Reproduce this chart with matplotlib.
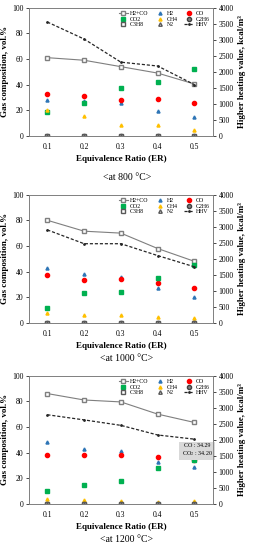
import numpy as np
import matplotlib
matplotlib.use('Agg')
import matplotlib.pyplot as plt

plt.rcParams['font.family'] = ['Liberation Serif', 'DejaVu Serif']
plt.rcParams['mathtext.fontset'] = 'stix'

# equivalence ratio
er = [0.1, 0.2, 0.3, 0.4, 0.5]
temps = ['800', '1000', '1200']

# gas composition (vol.%) at 800, 1000, 1200 C
h2co = [[61, 59, 54, 49, 40.5], [80, 71.5, 70, 58, 48], [86, 81, 79.5, 70, 63.5]]
h2 = [[28, 27, 25.5, 19.5, 14.5], [43, 38.5, 36, 27, 20.5], [48, 43, 41, 33, 29]]
co = [[33, 31, 28, 29, 25.5], [37, 33.5, 34.5, 31.5, 27], [38, 38, 38.5, 37, 34.3]]
co2 = [[18.5, 25.5, 37, 42, 52.5], [12, 23, 24, 35, 45], [10, 15, 18, 28, 34.2]]
ch4 = [[20, 15.5, 8.5, 8.5, 5], [8, 6, 6, 5, 4], [4, 3.5, 2.5, 1.5, 2.5]]
c2h6 = [[0, 0, 0, 0, 0], [0, 0, 0, 0, 0], [0, 0, 0, 0, 0]]
c3h8 = [[0, 0, 0, 0, 0], [0, 0, 0, 0, 0], [0, 0, 0, 0, 0]]
n2 = [[0, 0, 0, 0, 0], [0, 0, 0, 0, 0], [0, 0, 0, 0, 0]]
# higher heating value (kcal/m3)
hhv = [[3550, 3020, 2300, 2180, 1600], [2900, 2470, 2470, 2100, 1750], [2780, 2620, 2450, 2150, 2020]]

fig = plt.figure(figsize=(2.54, 5.5), dpi=100)

bottoms = [0.7527, 0.4127, 0.0836]
captions_y = [0.670, 0.340, 0.010]

for i in range(3):
    ax = fig.add_axes([0.114, bottoms[i], 0.724, 0.2335])
    ax2 = ax.twinx()

    ln1, = ax.plot(er, h2co[i], '-s', color='#7f7f7f', mfc='white', mec='#7f7f7f', ms=3.5, lw=0.8, label='H2+CO')
    p1, = ax.plot(er, h2[i], '^', color='#2e75b6', ms=2.2, ls='none', label='H2')
    p2, = ax.plot(er, co[i], 'o', color='#ff0000', ms=3, ls='none', label='CO')
    p3, = ax.plot(er, co2[i], 's', color='#00b050', ms=3, ls='none', label='CO2')
    p4, = ax.plot(er, ch4[i], '^', color='#ffc000', ms=2.2, ls='none', label='CH4')
    p5, = ax.plot(er, c2h6[i], 'o', color='#808080', mec='#404040', ms=3, ls='none', label='C2H6')
    p6, = ax.plot(er, c3h8[i], 's', color='white', mec='#595959', ms=3.5, ls='none', label='C3H8')
    p7, = ax.plot(er, n2[i], '^', color='white', mec='#595959', ms=2.5, ls='none', label='N2')
    ln2, = ax2.plot(er, hhv[i], '--', color='#262626', marker='.', ms=2, lw=0.9,
                    dashes=(2.5, 1.5), label='HHV')

    ax.set_xlim(0.05, 0.55)
    ax.set_ylim(0, 100)
    ax2.set_ylim(0, 4000)
    ax.set_xticks(er)
    ax.set_yticks([0, 20, 40, 60, 80, 100])
    ax2.set_yticks(np.arange(0, 4001, 500))
    ax.tick_params(labelsize=5.5, length=2, width=0.5, direction='out', pad=2)
    ax2.tick_params(labelsize=5.5, length=2, width=0.5, direction='out', pad=2)
    ax.tick_params(axis='x', length=0, pad=5)
    for a in (ax, ax2):
        for s in a.spines.values():
            s.set_linewidth(0.6)
            s.set_color('#7f7f7f')

    ax.set_xlabel('Equivalence Ratio (ER)', fontsize=6.5, fontweight='bold', labelpad=3)
    ax.set_ylabel('Gas composition, vol.%', fontsize=6.5, fontweight='bold', labelpad=2)
    ax2.set_ylabel('Higher heating value, kcal/m³', fontsize=6.5, fontweight='bold', labelpad=3)

    handles = [ln1, p1, p2, p3, p4, p5, p6, p7, ln2]
    # order row-wise for 3 columns
    order = [0, 3, 6, 1, 4, 7, 2, 5, 8]
    ax.legend([handles[k] for k in order], [handles[k].get_label() for k in order],
              ncol=3, loc='upper right', fontsize=4.2, frameon=False,
              handlelength=1.6, handletextpad=0.3, columnspacing=1.2,
              labelspacing=0.05, borderaxespad=0.2)

    fig.text(0.5, captions_y[i], '<at %s °C>' % temps[i], ha='center', va='bottom', fontsize=7)

    if i == 2:
        ax.text(0.508, 42, 'CO : 34.29\nCO$_2$ : 34.20', fontsize=4.3, ha='center', va='center',
                bbox=dict(boxstyle='square,pad=0.45', fc='#d9d9d9', ec='none'), zorder=5)

plt.savefig('out.png', dpi=100)
